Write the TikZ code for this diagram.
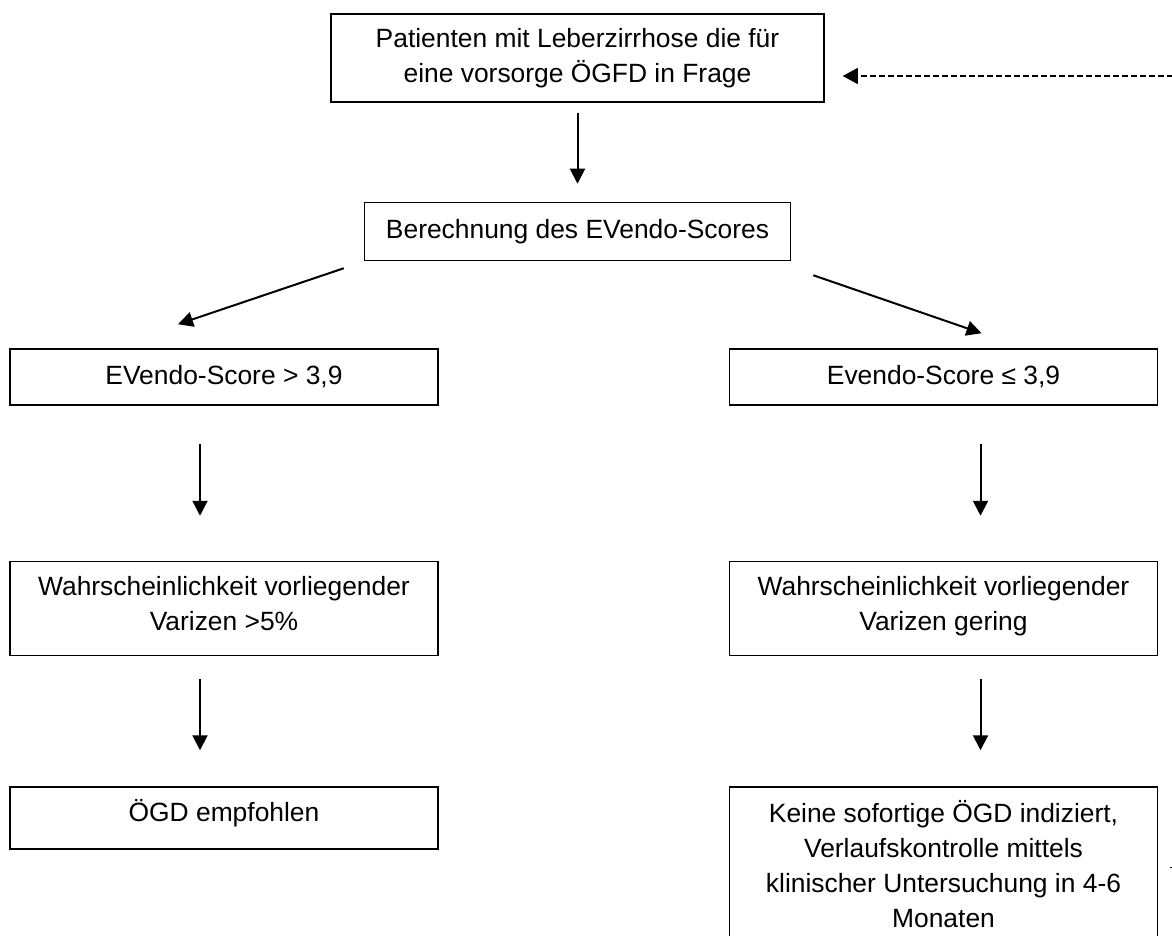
\documentclass[tikz,border=0pt]{standalone}
\usepackage{fontspec}
\setmainfont{Liberation Sans}
\usepackage{tikz}
\usetikzlibrary{arrows.meta, positioning}
\newcommand{\lowstrut}[1]{\rule[-#1]{0pt}{#1}} % lifts the text a little inside its box
\tikzset{
>={Triangle[length=7.5pt,width=7.5pt]}, % filled arrow heads
node distance=1cm, % default gap between boxes
box/.style={draw, line width=0.75pt, align=center, inner sep=2pt, font=\fontsize{13.2}{17.5}\selectfont},
flow/.style={->, line width=1pt}, % solid step arrows
feedback/.style={-{Triangle[length=7.5pt,width=8pt]}, line width=0.6pt, dash pattern=on 3pt off 1.5pt},
}

\begin{document}
\begin{tikzpicture}[x=0.5pt,y=-0.5pt]%pixel grid, y pointing down
  \useasboundingbox (0,0) rectangle (1172,936);
  \clip (0,0) rectangle (1172,936);

  \node[box, minimum width=246.5pt, minimum height=44pt] (top) at (577.5,58) {Patienten mit Leberzirrhose die für\\eine vorsorge ÖGFD in Frage};
  \node[box, minimum width=213pt, minimum height=29pt, below=49.5pt of top] (calc) {Berechnung des EVendo-Scores};
  \node[box, minimum width=214pt, minimum height=28pt] (highL) at (224,377) {EVendo-Score > 3,9};
  \node[box, minimum width=214pt, minimum height=28pt, right=145pt of highL] (lowR) {Evendo-Score ≤ 3,9};
  \node[box, minimum width=214pt, minimum height=47pt, below=77.5pt of highL] (probL) {Wahrscheinlichkeit vorliegender\\Varizen >5\%\lowstrut{5.3pt}};
  \node[box, minimum width=214pt, minimum height=47pt, below=77.5pt of lowR] (probR) {Wahrscheinlichkeit vorliegender\\Varizen gering\lowstrut{5.3pt}};
  \node[box, minimum width=214pt, minimum height=31pt, below=65pt of probL] (ogdL) {ÖGD empfohlen\lowstrut{7.8pt}};
  \node[box, minimum width=214pt, minimum height=83.5pt, below=65pt of probR] (ogdR) {Keine sofortige ÖGD indiziert,\\Verlaufskontrolle mittels\\klinischer Untersuchung in 4-6\\Monaten\lowstrut{6.5pt}};

  \draw[flow, shorten <=5pt, shorten >=9pt] (top) -- (calc);
  \draw[flow] ([xshift=-10pt,yshift=-3.5pt]calc.south west) -- ([xshift=-23pt,yshift=12pt]highL.north);
  \draw[flow] ([xshift=11pt,yshift=-7pt]calc.south east) -- ([xshift=19pt,yshift=7.5pt]lowR.north);
  \draw[flow, shorten <=19pt, shorten >=22.5pt] ([xshift=-12pt]highL.south) -- ([xshift=-12pt]probL.north);
  \draw[flow, shorten <=19pt, shorten >=22.5pt] ([xshift=18.5pt]lowR.south) -- ([xshift=18.5pt]probR.north);
  \draw[flow, shorten <=11.5pt, shorten >=18pt] ([xshift=-12pt]probL.south) -- ([xshift=-12pt]ogdL.north);
  \draw[flow, shorten <=11.5pt, shorten >=18pt] ([xshift=18.5pt]probR.south) -- ([xshift=18.5pt]ogdR.north);

  % loop back to the start, runs out of the frame
  \draw[feedback] ([xshift=6pt,yshift=1.5pt]ogdR.east) -- ++(30pt,0) |- ([xshift=9pt,yshift=-9pt]top.east);
\end{tikzpicture}
\end{document}
